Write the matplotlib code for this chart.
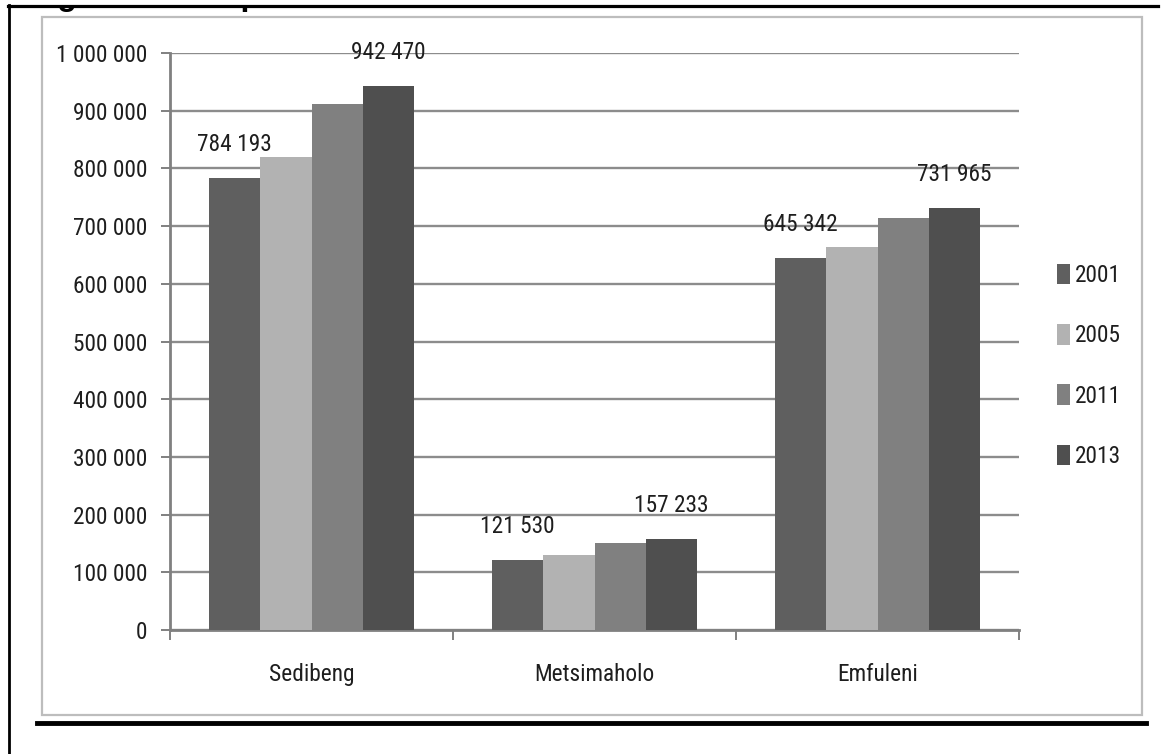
import matplotlib
matplotlib.use("Agg")
import matplotlib.pyplot as plt
import numpy as np
from matplotlib import font_manager
from matplotlib.lines import Line2D
from matplotlib.patches import Rectangle

# data
regions = ["Sedibeng", "Metsimaholo", "Emfuleni"]
years = ["2001", "2005", "2011", "2013"]
pop_2001 = [784193, 121530, 645342]
pop_2005 = [820000, 130000, 664000]
pop_2011 = [912000, 150000, 714000]
pop_2013 = [942470, 157233, 731965]
series = [pop_2001, pop_2005, pop_2011, pop_2013]
colors = ["#5f5f5f", "#b2b2b2", "#808080", "#4f4f4f"]
labelled = [0, 3]  # only first and last year carry value labels

# narrow font like the Calibri of the original, if there is one
fonts = {(f.name, f.stretch) for f in font_manager.fontManager.ttflist}
names = {n for n, s in fonts}
stretch = "normal"
if "Liberation Sans Narrow" in names:
    family, fs = "Liberation Sans Narrow", 17
elif "Roboto Condensed" in names:
    family, fs = "Roboto Condensed", 16.8
elif ("DejaVu Sans", "condensed") in fonts:
    family, fs, stretch = "DejaVu Sans", 14, "condensed"
else:
    family, fs = "Liberation Sans", 14.5
plt.rcParams['font.family'] = [family, 'DejaVu Sans']
plt.rcParams['font.stretch'] = stretch
em = fs * 100 / 72  # font size in pixels

W, H = 1168, 754
fig = plt.figure(figsize=(W / 100, H / 100), dpi=100)


def fx(x):
    return x / W


def fy(y):
    return 1 - y / H


ax = fig.add_axes([fx(170), fy(630), fx(1019) - fx(170), fy(53) - fy(630)])

x = np.arange(len(regions))
bw = 1 / 5.5
for i, (vals, c) in enumerate(zip(series, colors)):
    pos = x + (i - 1.5) * bw
    ax.bar(pos, vals, width=bw, color=c, label=years[i], zorder=3)
    if i in labelled:
        for p, v in zip(pos, vals):
            ax.annotate(f"{v:,}".replace(",", " "), (p, v), xytext=(0, 24),
                        textcoords="offset points", ha="center", va="center",
                        fontsize=fs, color="#1e1e1e", zorder=4)

ax.set_xlim(-0.5, 2.5)
ax.set_ylim(0, 1000000)
yt = np.arange(0, 1000001, 100000)
ax.set_yticks(yt)
ax.set_yticklabels([f"{v:,}".replace(",", " ") for v in yt])
ax.yaxis.grid(True, color="#8c8c8c", linewidth=1.7, zorder=0)
ax.set_axisbelow(True)

ax.set_xticks(x)
ax.set_xticklabels(regions)
ax.set_xticks([-0.5, 0.5, 1.5, 2.5], minor=True)
ax.tick_params(axis="x", which="major", length=0, pad=24, labelsize=fs, labelcolor="#1e1e1e")
ax.tick_params(axis="x", which="minor", length=7, width=1.4, color="#808080", direction="out")
ax.tick_params(axis="y", length=6.5, width=1.4, color="#808080", pad=10, labelsize=fs,
               labelcolor="#1e1e1e")

for s in ["top", "right"]:
    ax.spines[s].set_visible(False)
for s in ["left", "bottom"]:
    ax.spines[s].set_color("#808080")
    ax.spines[s].set_linewidth(2)

ax.legend(loc="center left", bbox_to_anchor=(fx(1057), fy(366)),
          bbox_transform=fig.transFigure, frameon=False, fontsize=fs,
          handlelength=13 / em, handleheight=23 / em,
          handletextpad=0.2, labelspacing=37 / em,
          borderpad=0, borderaxespad=0, labelcolor="#1e1e1e")

# chart frame and page lines
fig.add_artist(Rectangle((fx(42), fy(715)), fx(1142) - fx(42), fy(17) - fy(715),
                         transform=fig.transFigure, fill=False,
                         edgecolor="#bdbdbd", linewidth=1.6))
for xs, ys, lw in [([8, 1158], [5.5, 5.5], 2.3),
                   ([8.5, 8.5], [5, 754], 2),
                   ([37, 1146], [722.5, 722.5], 3.5)]:
    fig.add_artist(Line2D([fx(v) for v in xs], [fy(v) for v in ys],
                          color="black", linewidth=lw, zorder=5))

# caption of the page, cut off by the crop: only descenders show below the line
cap = fig.text(fx(29), fy(5), "Figure 3.2: Population of the district", fontsize=23,
               fontweight="bold", ha="left", va="baseline",
               family=["Liberation Sans", "DejaVu Sans"], stretch="normal", zorder=3)
clip = Rectangle((0, 0), 1, fy(6), transform=fig.transFigure, visible=False)
fig.add_artist(clip)
cap.set_clip_path(clip)

fig.savefig("out.png", dpi=100)
